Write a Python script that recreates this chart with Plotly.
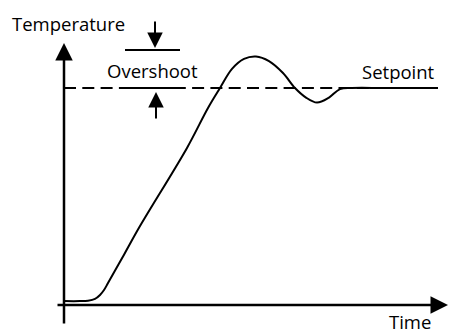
import plotly.graph_objects as go

# Process response: time (arbitrary units) vs temperature (% of setpoint)
time = [0, 4, 6, 7.75, 9, 10, 11, 15, 19, 30.75, 36, 39,
        42, 45, 48, 51.25, 54.75, 57.75, 60.5, 63.25, 66.25, 69, 72, 80, 93.5]
temperature = [1.8, 1.8, 2.0, 2.8, 4.6, 6.9, 10.1, 23.2, 36.4, 72.4, 90.8, 100,
               108.8, 113.4, 114.5, 112.4, 106.9, 100, 95.6, 93.3, 95.6, 99.5, 100, 100, 100]

setpoint = 100
overshoot_top = 117.5
time_end = 93.5

FONT = "Open Sans"
INK = "#000000"

fig = go.Figure()

# dashed setpoint reference
fig.add_trace(go.Scatter(
    x=[0, time_end], y=[setpoint, setpoint], mode="lines",
    line=dict(color=INK, width=2, dash="12px,6.3px"), hoverinfo="skip"))

# overshoot bars
fig.add_trace(go.Scatter(
    x=[15.25, 29, None, 15.25, 29], y=[overshoot_top, overshoot_top, None, setpoint, setpoint],
    mode="lines", line=dict(color=INK, width=2), hoverinfo="skip"))

# response curve
fig.add_trace(go.Scatter(
    x=time, y=temperature, mode="lines",
    line=dict(color=INK, width=2, shape="spline", smoothing=1), hoverinfo="skip"))

annotations = []

def arrow(x0, y0, x1, y1, width, size):
    annotations.append(dict(
        x=x1, y=y1, ax=x0, ay=y0, xref="x", yref="y", axref="x", ayref="y",
        showarrow=True, arrowhead=2, arrowwidth=width, arrowsize=size,
        arrowcolor=INK, text=""))

# axes
arrow(0, -9.2, 0, 120.7, 2.5, 1.4)
arrow(-2, 0, 96, 0, 2.5, 1.4)
# overshoot markers
arrow(22.75, 131.3, 22.75, 118.4, 2, 1.55)
arrow(23, 85.3, 23, 98.2, 2, 1.55)

def label(text, x, y):
    annotations.append(dict(
        x=x, y=y, xref="x", yref="y", text=text, showarrow=False,
        xanchor="center", yanchor="middle",
        font=dict(family=FONT, size=18.5, color=INK)))

label("Temperature", 1, 129.6)
label("Overshoot", 22.1, 108.0)
label("Setpoint", 83.5, 107.8)
label("Time", 86.5, -7.6)

fig.update_layout(
    width=449, height=334,
    margin=dict(l=0, r=0, t=0, b=0),
    paper_bgcolor="white", plot_bgcolor="white",
    showlegend=False,
    xaxis=dict(range=[-16, 96.25], visible=False, fixedrange=True),
    yaxis=dict(range=[-13.36, 140.55], visible=False, fixedrange=True),
    annotations=annotations,
)

fig.write_html("out.html", config={"displayModeBar": False})
